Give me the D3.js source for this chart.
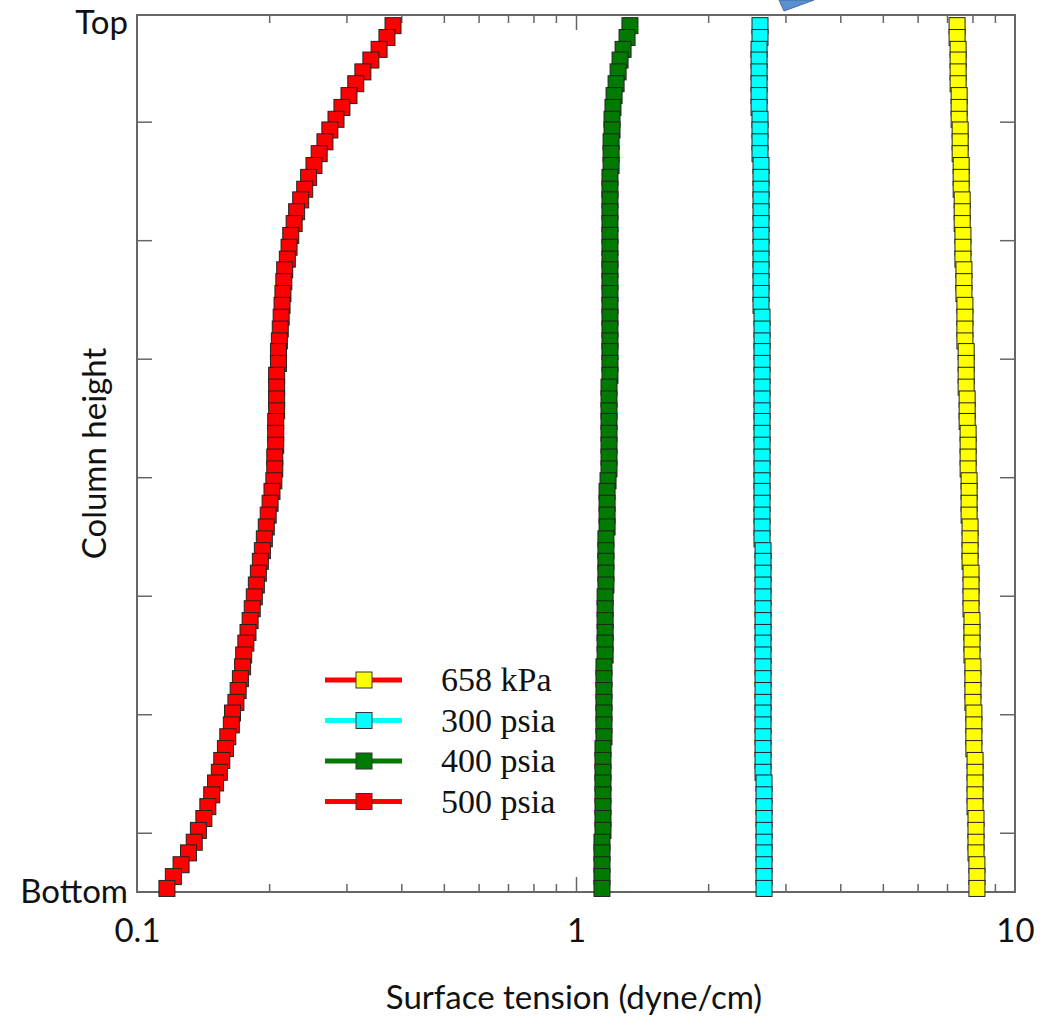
<!DOCTYPE html>
<html>
<head>
<meta charset="utf-8">
<script src="https://cdn.jsdelivr.net/npm/d3@7"></script>
<style>
  html, body { margin: 0; padding: 0; background: #fff; }
  svg { display: block; }
  .lbl { font-family: Lato, "Open Sans", sans-serif; fill: #111; }
  .leg { font-family: "Liberation Serif", "DejaVu Serif", serif; fill: #111; }
</style>
</head>
<body>
<svg id="chart" width="1051" height="1023"></svg>
<script>
// column height positions of the stages (bottom -> top), arbitrary units
var heights = [0.03,0.13,0.23,0.33,0.42,0.52,0.62,0.72,0.82,0.92,
	1.01,1.11,1.21,1.31,1.41,1.51,1.60,1.70,1.80,1.90,
	2.00,2.10,2.19,2.29,2.39,2.49,2.59,2.69,2.79,2.88,
	2.98,3.08,3.18,3.28,3.38,3.47,3.57,3.67,3.77,3.87,
	3.97,4.06,4.16,4.26,4.36,4.46,4.56,4.65,4.75,4.85,
	4.95,5.05,5.15,5.25,5.34,5.44,5.54,5.64,5.74,5.84,
	5.93,6.03,6.13,6.23,6.33,6.43,6.52,6.62,6.72,6.82,
	6.92,7.02,7.11,7.21,7.31];

// surface tension (dyne/cm), bottom -> top
var kpa658 = [8.19,8.19,8.19,8.15,8.15,8.15,8.15,8.11,8.11,8.11,
	8.11,8.11,8.06,8.06,8.06,8.06,8.02,8.02,8.02,8.02,
	7.98,7.98,7.98,7.98,7.94,7.94,7.94,7.94,7.90,7.90,
	7.90,7.90,7.86,7.86,7.86,7.86,7.82,7.82,7.82,7.82,
	7.78,7.78,7.78,7.74,7.74,7.74,7.74,7.69,7.69,7.69,
	7.69,7.65,7.65,7.65,7.61,7.61,7.61,7.58,7.58,7.58,
	7.54,7.54,7.54,7.50,7.50,7.50,7.46,7.46,7.46,7.42,
	7.42,7.42,7.42,7.38,7.38];

var psia300 = [2.681,2.681,2.681,2.681,2.681,2.681,2.681,2.681,2.681,2.681,
	2.667,2.667,2.667,2.667,2.667,2.667,2.667,2.667,2.667,2.667,
	2.667,2.667,2.667,2.667,2.667,2.667,2.667,2.667,2.667,2.667,
	2.653,2.653,2.653,2.653,2.653,2.653,2.653,2.653,2.653,2.653,
	2.653,2.653,2.653,2.653,2.653,2.653,2.653,2.653,2.653,2.653,
	2.639,2.639,2.639,2.639,2.639,2.639,2.639,2.639,2.639,2.639,
	2.639,2.639,2.639,2.625,2.625,2.625,2.625,2.612,2.612,2.612,
	2.612,2.612,2.612,2.625,2.625];

var psia400 = [1.146,1.146,1.146,1.146,1.146,1.152,1.152,1.152,1.152,1.152,
	1.152,1.152,1.152,1.158,1.158,1.158,1.158,1.158,1.158,1.158,
	1.165,1.165,1.165,1.165,1.165,1.165,1.170,1.170,1.170,1.170,
	1.170,1.177,1.177,1.177,1.177,1.183,1.189,1.189,1.189,1.189,
	1.189,1.189,1.189,1.189,1.195,1.195,1.195,1.195,1.195,1.195,
	1.195,1.195,1.195,1.195,1.195,1.195,1.195,1.195,1.195,1.195,
	1.195,1.195,1.202,1.202,1.202,1.208,1.208,1.214,1.221,1.234,
	1.247,1.260,1.280,1.307,1.327];

var psia500 = [0.117,0.121,0.126,0.131,0.135,0.138,0.142,0.145,0.148,0.151,
	0.154,0.156,0.159,0.161,0.164,0.165,0.168,0.170,0.172,0.174,
	0.175,0.177,0.179,0.181,0.183,0.185,0.187,0.189,0.191,0.193,
	0.195,0.197,0.199,0.201,0.203,0.205,0.206,0.206,0.207,0.207,
	0.207,0.208,0.208,0.208,0.208,0.210,0.210,0.211,0.212,0.213,
	0.214,0.215,0.216,0.217,0.220,0.222,0.224,0.228,0.231,0.236,
	0.241,0.246,0.253,0.260,0.268,0.275,0.284,0.293,0.304,0.315,
	0.327,0.341,0.356,0.371,0.383];

var seriesNames = ["658 kPa", "300 psia", "400 psia", "500 psia"];
var xTickLabels = [0.1, 1, 10];
var yTickLabels = ["Bottom", "Top"];

var fills = ["#ffff00", "#00ffff", "#007a00", "#ff0000"],
	lineColors = ["#ff0000", "#00ffff", "#007a00", "#ff0000"];

var series = [kpa658, psia300, psia400, psia500].map(function(vals, k) {
	return {
		name: seriesNames[k],
		values: vals.map(function(v, i) { return {x: v, h: heights[i]}; })
	};
});

var svg = d3.select("#chart"),
	pLeft = 137, pRight = 1015, pTop = 15, pBottom = 892;

var x = d3.scaleLog().domain([0.1, 10]).range([pLeft, pRight]);
var y = d3.scaleLinear().domain([0, 7.4]).range([pBottom, pTop]);

// arrow callout clipped by the top of the slide
svg.append("path")
	.attr("d", "M779,0 L784,11 L814,0 Z")
	.attr("fill", "#5b8fd3")
	.attr("stroke", "#41719c")
	.attr("stroke-width", 1);

var minors = [0.2,0.3,0.4,0.5,0.6,0.7,0.8,0.9,2,3,4,5,6,7,8,9],
	yTicks = [0.5,1.5,2.5,3.5,4.5,5.5,6.5];

var axes = svg.append("g").attr("class", "axes");

function tickAxis(axisFn, scale, vals, size, pos) {
	var g = axes.append("g")
		.attr("transform", pos)
		.call(axisFn(scale).tickValues(vals).tickSize(size).tickFormat(""));
	g.select(".domain").remove();
	g.selectAll("line").attr("stroke", "#666").attr("stroke-width", 1.5);
	return g;
}
tickAxis(d3.axisBottom, x, minors, -8, "translate(0," + pBottom + ")");
tickAxis(d3.axisBottom, x, [1], -15, "translate(0," + pBottom + ")");
tickAxis(d3.axisTop, x, minors, -8, "translate(0," + pTop + ")");
tickAxis(d3.axisTop, x, [1], -15, "translate(0," + pTop + ")");
tickAxis(d3.axisLeft, y, yTicks, -15, "translate(" + pLeft + ",0)");
tickAxis(d3.axisRight, y, yTicks, -15, "translate(" + pRight + ",0)");

// plot frame
axes.append("rect")
	.attr("x", pLeft).attr("y", pTop)
	.attr("width", pRight - pLeft).attr("height", pBottom - pTop)
	.attr("fill", "none")
	.attr("stroke", "#666")
	.attr("stroke-width", 2);

// x tick labels
var gx = svg.append("g")
	.attr("transform", "translate(0," + pBottom + ")")
	.call(d3.axisBottom(x).tickValues(xTickLabels).tickSize(0).tickPadding(27)
		.tickFormat(function(d) { return d === 0.1 ? "0.1" : String(d); }));
gx.select(".domain").remove();
gx.selectAll("text").attr("class", "lbl").attr("font-size", 33).attr("fill", "#111");

// y end labels
var gy = svg.append("g")
	.attr("transform", "translate(" + pLeft + ",0)")
	.call(d3.axisLeft(y).tickValues(y.domain()).tickSize(0).tickPadding(9)
		.tickFormat(function(d, i) { return yTickLabels[i]; }));
gy.select(".domain").remove();
gy.selectAll("text").attr("class", "lbl").attr("font-size", 33).attr("fill", "#111")
	.attr("dy", function(d, i) { return i === 1 ? "0.55em" : "0.32em"; });

// axis titles
svg.append("text")
	.attr("class", "lbl")
	.attr("x", (pLeft + pRight) / 2 - 2)
	.attr("y", 1009)
	.attr("text-anchor", "middle")
	.attr("font-size", 33)
	.text("Surface tension (dyne/cm)");

svg.append("text")
	.attr("class", "lbl")
	.attr("transform", "translate(106," + ((pTop + pBottom) / 2) + ") rotate(-90)")
	.attr("text-anchor", "middle")
	.attr("font-size", 33)
	.text("Column height");

// series
var plot = svg.append("g");
var line = d3.line()
	.x(function(d) { return x(d.x); })
	.y(function(d) { return y(d.h); });

var ms = 16;
series.forEach(function(s, k) {
	var g = plot.append("g").attr("class", "series s" + k);
	g.append("path")
		.attr("d", line(s.values))
		.attr("fill", "none")
		.attr("stroke", lineColors[k])
		.attr("stroke-width", 3);
	g.selectAll("rect")
		.data(s.values.slice().reverse())
		.enter().append("rect")
		.attr("x", function(d) { return x(d.x) - ms / 2; })
		.attr("y", function(d) { return y(d.h) - ms / 2; })
		.attr("width", ms)
		.attr("height", ms)
		.attr("fill", fills[k])
		.attr("stroke", "#222")
		.attr("stroke-width", 1);
});

// legend
var legend = svg.append("g").attr("transform", "translate(325,680)");
var rows = legend.selectAll(".row")
	.data(seriesNames)
	.enter().append("g")
	.attr("class", "row")
	.attr("transform", function(d, i) { return "translate(0," + (i * 40.5) + ")"; });
rows.append("line")
	.attr("x1", 0).attr("x2", 77)
	.attr("stroke", function(d, i) { return lineColors[i]; })
	.attr("stroke-width", 5);
rows.append("rect")
	.attr("x", 39 - 8).attr("y", -8)
	.attr("width", 16).attr("height", 16)
	.attr("fill", function(d, i) { return fills[i]; })
	.attr("stroke", "#333")
	.attr("stroke-width", 1);
rows.append("text")
	.attr("class", "leg")
	.attr("x", 116)
	.attr("y", 11)
	.attr("font-size", 34)
	.text(function(d) { return d; });
</script>
</body>
</html>
